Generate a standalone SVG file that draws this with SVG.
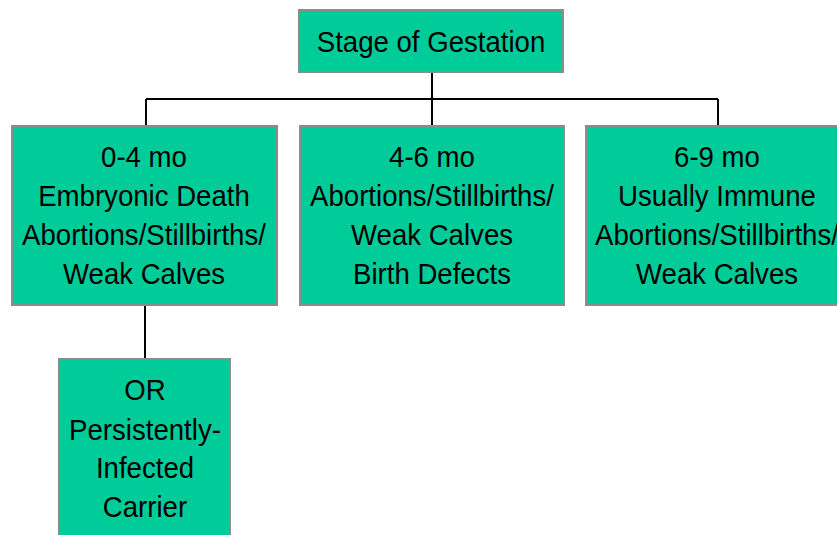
<svg xmlns="http://www.w3.org/2000/svg" width="837" height="535" viewBox="0 0 837 535">
<style>
.box{fill:#00CC99;stroke:#8C8C8C;stroke-width:2}
.t{font-family:"Liberation Sans",Arial,sans-serif;font-size:30px;fill:#000;text-anchor:middle}
.c{stroke:#000;stroke-width:2;fill:none}
</style>
<rect width="837" height="535" fill="#fff"/>
<g id="connectors">
<path class="c" d="M432 72V99M146 99H718M146 99V126M432 99V126M718 99V126M145 305V359"/>
</g>
<g id="root">
<rect class="box" x="299" y="10" width="264" height="62"/>
<text class="t" transform="translate(431 52) scale(.92 1)">Stage of Gestation</text>
</g>
<g id="n04">
<rect class="box" x="12" y="126" width="265" height="179"/>
<text class="t" transform="translate(144 167) scale(.92 1)">0-4 mo</text>
<text class="t" transform="translate(144 206) scale(.92 1)">Embryonic Death</text>
<text class="t" transform="translate(144 245) scale(.92 1)">Abortions/Stillbirths/</text>
<text class="t" transform="translate(144 284) scale(.92 1)">Weak Calves</text>
</g>
<g id="n46">
<rect class="box" x="300" y="126" width="264" height="179"/>
<text class="t" transform="translate(432 167) scale(.92 1)">4-6 mo</text>
<text class="t" transform="translate(432 206) scale(.92 1)">Abortions/Stillbirths/</text>
<text class="t" transform="translate(432 245) scale(.92 1)">Weak Calves</text>
<text class="t" transform="translate(432 284) scale(.92 1)">Birth Defects</text>
</g>
<g id="n69">
<rect class="box" x="586" y="126" width="264" height="179"/>
<text class="t" transform="translate(717 167) scale(.92 1)">6-9 mo</text>
<text class="t" transform="translate(717 206) scale(.92 1)">Usually Immune</text>
<text class="t" transform="translate(717 245) scale(.92 1)">Abortions/Stillbirths/</text>
<text class="t" transform="translate(717 284) scale(.92 1)">Weak Calves</text>
</g>
<g id="pi">
<rect class="box" x="59" y="359" width="171" height="190"/>
<text class="t" transform="translate(145 400) scale(.92 1)">OR</text>
<text class="t" transform="translate(145 440) scale(.92 1)">Persistently-</text>
<text class="t" transform="translate(145 478) scale(.92 1)">Infected</text>
<text class="t" transform="translate(145 517) scale(.92 1)">Carrier</text>
</g>
</svg>
